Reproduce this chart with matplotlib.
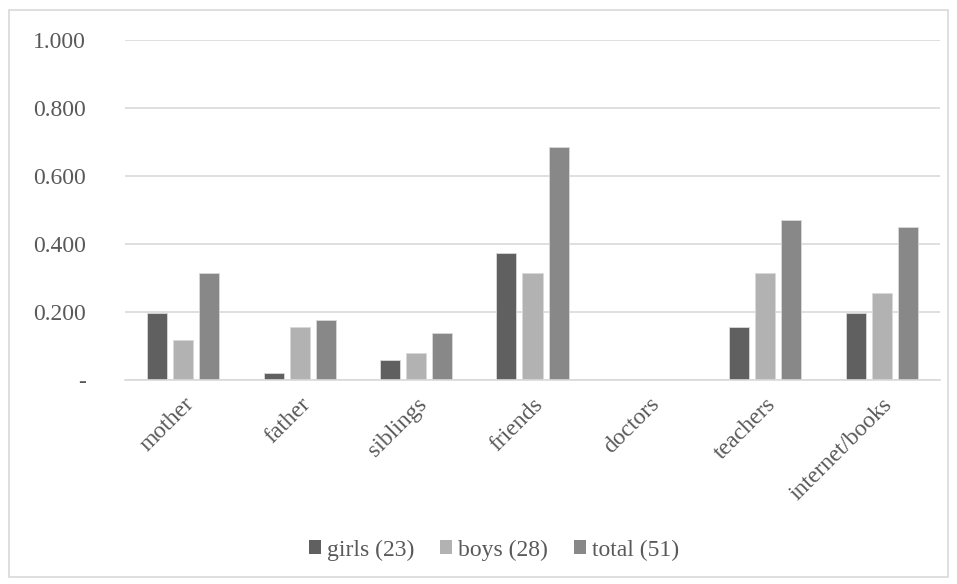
import matplotlib.pyplot as plt
import numpy as np
from matplotlib.patches import Rectangle

categories = ["mother", "father", "siblings", "friends", "doctors", "teachers", "internet/books"]
girls = [0.196, 0.020, 0.059, 0.373, 0.0, 0.157, 0.196]
boys = [0.118, 0.157, 0.078, 0.314, 0.0, 0.314, 0.255]
total = [0.314, 0.176, 0.137, 0.686, 0.0, 0.471, 0.451]
series_names = ["girls (23)", "boys (28)", "total (51)"]
y_ticks = [0.0, 0.2, 0.4, 0.6, 0.8, 1.0]
y_tick_labels = ["-", "0.200", "0.400", "0.600", "0.800", "1.000"]

colors = ["#606060", "#b2b2b2", "#888888"]
text_color = "#595959"
fs = 17

plt.rcParams["font.family"] = "serif"
plt.rcParams["font.serif"] = ["Liberation Serif", "DejaVu Serif"]

fig = plt.figure(figsize=(9.57, 5.84), dpi=100)
ax = fig.add_axes([125 / 957, 1 - 380 / 584, 815 / 957, 340 / 584])

x = np.arange(len(categories))
width = 0.172
step = 0.224
for i, (vals, name) in enumerate(zip([girls, boys, total], series_names)):
    ax.bar(x + (i - 1) * step, vals, width, color=colors[i], edgecolor="#d9d9d9",
           linewidth=0.6, label=name, zorder=3)

ax.set_xlim(-0.5, len(categories) - 0.5)
ax.set_ylim(0, 1.0)
ax.set_yticks(y_ticks)
ax.set_yticklabels(y_tick_labels)
ax.yaxis.grid(True, color="#d9d9d9", linewidth=1.2, zorder=0)
ax.tick_params(axis="y", length=0, pad=28, labelsize=fs, labelcolor=text_color)

ax.set_xticks(x)
ax.set_xticklabels(categories, rotation=45, ha="right", rotation_mode="anchor")
ax.tick_params(axis="x", length=0, pad=10, labelsize=fs, labelcolor=text_color)

for side in ["top", "right", "left"]:
    ax.spines[side].set_visible(False)
ax.spines["bottom"].set_color("#d9d9d9")
ax.spines["bottom"].set_linewidth(1.2)
ax.spines["bottom"].set_zorder(4)

leg = fig.legend(loc="center", bbox_to_anchor=(494 / 957, 1 - 550 / 584), ncol=3, frameon=False,
                 fontsize=fs, handlelength=0.5, handleheight=0.5, handletextpad=0.25,
                 columnspacing=1.1, labelcolor=text_color)
for h in leg.legend_handles:
    h.set_edgecolor("none")

# outer chart border
fig.patches.append(Rectangle((9 / 957, 1 - 577 / 584), 939 / 957, 567 / 584,
                             transform=fig.transFigure, fill=False,
                             edgecolor="#d9d9d9", linewidth=1.2))

fig.savefig("out.png", dpi=100)
